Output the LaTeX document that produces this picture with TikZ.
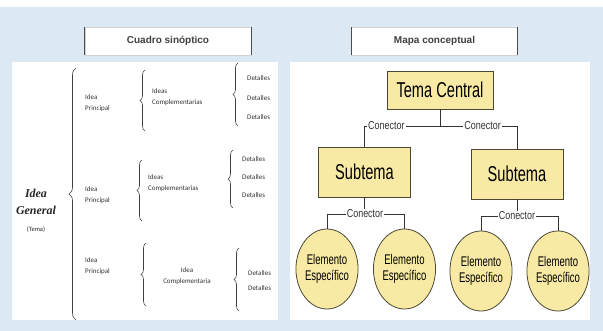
\documentclass[tikz,border=0pt]{standalone}
\usepackage{fontspec}
\setmainfont{Liberation Sans}
\newfontfamily\narrowfont[FakeStretch=0.68]{Liberation Sans}
\newfontfamily\linkfont[FakeStretch=0.78]{Liberation Sans}
\newfontfamily\notefont{Carlito}
\newfontfamily\headfont{Liberation Serif}
\usetikzlibrary{shapes.geometric, decorations.pathreplacing}

\definecolor{bgblue}{HTML}{DCE8F3}
\definecolor{boxyellow}{HTML}{F8EAA4}
\definecolor{boxline}{HTML}{4A4736}

\begin{document}
\begin{tikzpicture}[x=1pt, y=-1pt,
        title/.style={draw=gray!35, fill=white, minimum width=166pt, minimum height=28pt,
            font=\bfseries\fontsize{10}{12}\selectfont, text=black!75},
        titleedge/.style={draw=black!70, line width=1.2pt},
        note/.style={font=\notefont\fontsize{7}{11}\selectfont, text=black!80, align=left, inner sep=0pt, anchor=west},
        bracket/.style={draw=black!75, semithick, decorate, decoration={brace, amplitude=#1}},
        bracket/.default=5pt,
        topic/.style={draw=boxline, thick, fill=boxyellow, minimum width=92pt, minimum height=50pt,
            font=\narrowfont\fontsize{21.5}{24}\selectfont},
        leaf/.style={ellipse, draw=boxline, thick, fill=boxyellow, minimum width=54pt, minimum height=80pt,
            inner sep=0pt, align=center, font=\narrowfont\fontsize{14}{16}\selectfont},
        link/.style={fill=white, inner sep=1pt, font=\linkfont\fontsize{11.5}{14}\selectfont, text=black!80},
        wire/.style={draw=black!80, thick}]
    \useasboundingbox (0,0) rectangle (603,331);
    \fill[bgblue] (0,7) rectangle (603,331);
    \fill[white] (12,62) rectangle (278,320);
    \fill[white] (290,62) rectangle (590,320);

    \node[title] (cuadro) at (168,41) {Cuadro sinóptico};
    \node[title] (mapa) at (434.5,41) {Mapa conceptual};
    \draw[titleedge] (cuadro.north west) -- (cuadro.south west);
    \draw[titleedge] (cuadro.north east) -- (cuadro.south east);
    \draw[titleedge] (mapa.north west) -- (mapa.south west);
    \draw[titleedge] (mapa.north east) -- (mapa.south east);

    % cuadro sinoptico
    \node[align=center, inner sep=0pt, text=black!85, font=\headfont\bfseries\itshape\fontsize{12}{17}\selectfont]
        (general) at (36,211) {Idea\\General\\{\notefont\mdseries\upshape\fontsize{6.5}{8}\selectfont(Tema)}};
    \draw[bracket=7pt] (76,320) -- (76,68);

    \node[note] (prin1) at (85,103) {Idea\\Principal};
    \node[note] (prin2) at (85,195) {Idea\\Principal};
    \node[note] (prin3) at (85,266) {Idea\\Principal};

    \draw[bracket] (145,131) -- (145,70);
    \draw[bracket] (142,221) -- (142,160);
    \draw[bracket] (146,306) -- (146,243);

    \node[note] (comp1) at (152,97) {Ideas\\Complementarias};
    \node[note] (comp2) at (148,183) {Ideas\\Complementarias};
    \node[note, anchor=center, align=center] (comp3) at (187,276) {Idea\\Complementaria};

    \draw[bracket] (238,126) -- (238,63);
    \draw[bracket] (233,208) -- (233,150);
    \draw[bracket] (239,311) -- (239,248);

    \node[note] (det11) at (247,78) {Detalles};
    \node[note] (det12) at (247,98) {Detalles};
    \node[note] (det13) at (247,117) {Detalles};
    \node[note] (det21) at (242,159) {Detalles};
    \node[note] (det22) at (242,177) {Detalles};
    \node[note] (det23) at (242,195) {Detalles};
    \node[note] (det31) at (248,273) {Detalles};
    \node[note] (det32) at (248,288) {Detalles};

    % mapa conceptual
    \node[topic, minimum width=106pt, minimum height=38pt] (central) at (440,90) {Tema Central};
    \node[topic] (sub1) at (364.5,172) {Subtema};
    \node[topic] (sub2) at (517,174) {Subtema};

    \node[link, anchor=west] (con1) at (367,126) {Conector};
    \node[link, anchor=east] (con2) at (502,126) {Conector};
    \draw[wire] (central.south) -- (central.south |- con1.center);
    \draw[wire] (sub1.north) |- (con1.west);
    \draw[wire] (con1.east) -- (con2.west);
    \draw[wire] (con2.east) -| (sub2.north);

    \node[leaf] (el1) at (327,269) {Elemento\\Específico};
    \node[leaf] (el2) at (404.5,269) {Elemento\\Específico};
    \node[leaf] (el3) at (481,271) {Elemento\\Específico};
    \node[leaf] (el4) at (558,271) {Elemento\\Específico};

    \node[link] (con3) at (365,214) {Conector};
    \node[link] (con4) at (517,216) {Conector};
    \draw[wire] (sub1.south) -- (sub1.south |- con3.north);
    \draw[wire] (el1.north) |- (con3.west);
    \draw[wire] (con3.east) -| (el2.north);
    \draw[wire] (sub2.south) -- (sub2.south |- con4.north);
    \draw[wire] (el3.north) |- (con4.west);
    \draw[wire] (con4.east) -| (el4.north);
\end{tikzpicture}
\end{document}
